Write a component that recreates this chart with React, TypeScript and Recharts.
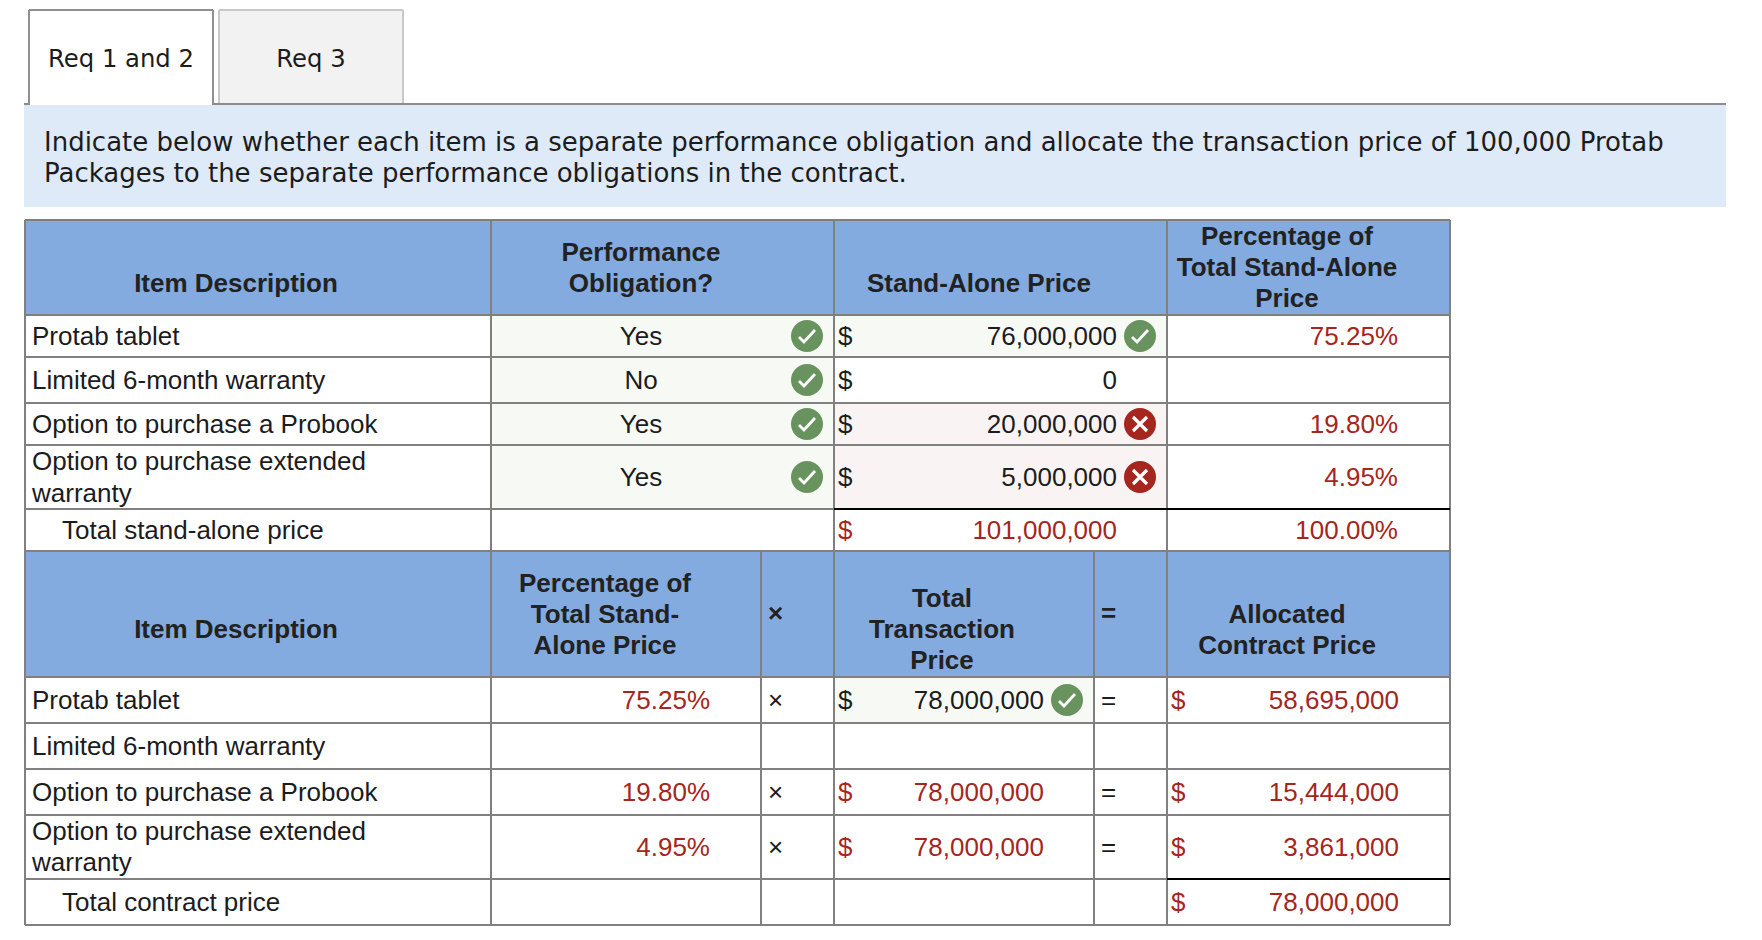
import React from "react"
import { ScatterChart, Scatter, XAxis, YAxis, ReferenceArea, ReferenceLine } from "recharts"

// table content
const tabLabels = ["Req 1 and 2", "Req 3"]
const introLines = [
  "Indicate below whether each item is a separate performance obligation and allocate the transaction price of 100,000 Protab",
  "Packages to the separate performance obligations in the contract.",
]
const itemHeader = "Item Description"
const obligationHeader = ["Performance", "Obligation?"]
const standAloneHeader = "Stand-Alone Price"
const percentHeaderTop = ["Percentage of", "Total Stand-Alone", "Price"]
const percentHeaderBottom = ["Percentage of", "Total Stand-", "Alone Price"]
const transactionHeader = ["Total", "Transaction", "Price"]
const allocatedHeader = ["Allocated", "Contract Price"]

const items = ["Protab tablet", "Limited 6-month warranty", "Option to purchase a Probook"]
const extendedItem = ["Option to purchase extended", "warranty"]
const totalStandAloneLabel = "Total stand-alone price"
const totalContractLabel = "Total contract price"

const obligations = ["Yes", "No", "Yes", "Yes"]
const obligationOk = [true, true, true, true]
const standAlonePrices = ["76,000,000", "0", "20,000,000", "5,000,000"]
const standAloneOk = [true, null, false, false]
const standAloneTotal = "101,000,000"
const standAlonePercents = ["75.25%", "", "19.80%", "4.95%"]
const percentTotal = "100.00%"
const transactionPrices = ["78,000,000", "", "78,000,000", "78,000,000"]
const allocatedPrices = ["58,695,000", "", "15,444,000", "3,861,000"]
const allocatedTotal = "78,000,000"

// layout, in page pixels
const W = 1762
const H = 940
const SANS = "'Liberation Sans', Arial, sans-serif"
const VERDANA = "'DejaVu Sans', Verdana, sans-serif"
const GRAY = "#808080"
const BLUE = "#83abe0"
const RED = "#a4261d"
const INK = "#1c1c1c"

const cols = { left: 25, perf: 491, mult: 761, price: 834, eq: 1094, pct: 1167, right: 1450 }
const topRows = [220, 315, 357, 403, 445, 509, 551]
const bottomRows = [551, 677, 723, 769, 815, 879, 925]
const topCenters = [336, 380, 424, 477]
const bottomCenters = [700, 746, 792, 847]

const X = {
  itemText: 32,
  indent: 62,
  itemCenter: 236,
  perfCenter: 641,
  dollar: 838,
  dollarRight: 1171,
  priceRight: 1117,
  priceHeader: 979,
  pctCenter: 1287,
  pctRight: 1398,
  bottomPctCenter: 605,
  bottomPctRight: 710,
  multCenter: 775.5,
  txCenter: 942,
  txRight: 1044,
  eqCenter: 1108.5,
  allocRight: 1399,
  iconPerf: 807,
  iconPrice: 1140,
  iconTx: 1067,
}

type Cell = { x: number; y: number; text: string; anchor?: string }

const headerCells: Cell[] = [
  { x: X.itemCenter, y: 283, text: itemHeader },
  { x: X.perfCenter, y: 252, text: obligationHeader[0] },
  { x: X.perfCenter, y: 283, text: obligationHeader[1] },
  { x: X.priceHeader, y: 283, text: standAloneHeader },
  ...percentHeaderTop.map((t, i) => ({ x: X.pctCenter, y: [235.5, 267, 298][i], text: t })),
  { x: X.itemCenter, y: 629, text: itemHeader },
  ...percentHeaderBottom.map((t, i) => ({ x: X.bottomPctCenter, y: [583, 614, 645][i], text: t })),
  { x: X.multCenter, y: 613, text: "×" },
  ...transactionHeader.map((t, i) => ({ x: X.txCenter, y: [598, 629, 660][i], text: t })),
  { x: X.eqCenter, y: 613, text: "=" },
  ...allocatedHeader.map((t, i) => ({ x: X.pctCenter, y: [614, 645][i], text: t })),
]

const inkCells: Cell[] = [
  ...items.map((t, i) => ({ x: X.itemText, y: topCenters[i], text: t, anchor: "start" })),
  { x: X.itemText, y: 461, text: extendedItem[0], anchor: "start" },
  { x: X.itemText, y: 493, text: extendedItem[1], anchor: "start" },
  { x: X.indent, y: 530, text: totalStandAloneLabel, anchor: "start" },
  ...obligations.map((t, i) => ({ x: X.perfCenter, y: topCenters[i], text: t })),
  ...standAlonePrices.map((t, i) => ({ x: X.dollar, y: topCenters[i], text: "$", anchor: "start" })),
  ...standAlonePrices.map((t, i) => ({ x: X.priceRight, y: topCenters[i], text: t, anchor: "end" })),
  ...items.map((t, i) => ({ x: X.itemText, y: bottomCenters[i], text: t, anchor: "start" })),
  { x: X.itemText, y: 831, text: extendedItem[0], anchor: "start" },
  { x: X.itemText, y: 862, text: extendedItem[1], anchor: "start" },
  { x: X.indent, y: 902, text: totalContractLabel, anchor: "start" },
  ...transactionPrices.flatMap((t, i) =>
    t === "" ? [] : [
      { x: X.multCenter, y: bottomCenters[i], text: "×" },
      { x: X.eqCenter, y: bottomCenters[i], text: "=" },
    ]),
  { x: X.dollar, y: bottomCenters[0], text: "$", anchor: "start" },
  { x: X.txRight, y: bottomCenters[0], text: transactionPrices[0], anchor: "end" },
]

const redCells: Cell[] = [
  { x: X.dollar, y: 530, text: "$", anchor: "start" },
  { x: X.priceRight, y: 530, text: standAloneTotal, anchor: "end" },
  ...standAlonePercents.flatMap((t, i) => t === "" ? [] : [
    { x: X.pctRight, y: topCenters[i], text: t, anchor: "end" },
    { x: X.bottomPctRight, y: bottomCenters[i], text: t, anchor: "end" },
  ]),
  { x: X.pctRight, y: 530, text: percentTotal, anchor: "end" },
  ...transactionPrices.flatMap((t, i) => t === "" || i === 0 ? [] : [
    { x: X.dollar, y: bottomCenters[i], text: "$", anchor: "start" },
    { x: X.txRight, y: bottomCenters[i], text: t, anchor: "end" },
  ]),
  ...allocatedPrices.flatMap((t, i) => t === "" ? [] : [
    { x: X.dollarRight, y: bottomCenters[i], text: "$", anchor: "start" },
    { x: X.allocRight, y: bottomCenters[i], text: t, anchor: "end" },
  ]),
  { x: X.dollarRight, y: 902, text: "$", anchor: "start" },
  { x: X.allocRight, y: 902, text: allocatedTotal, anchor: "end" },
]

const tabCells: Cell[] = [
  { x: 121, y: 58, text: tabLabels[0] },
  { x: 311, y: 58, text: tabLabels[1] },
]
const introCells: Cell[] = introLines.map((t, i) => ({ x: 44, y: [141.5, 172.5][i], text: t, anchor: "start" }))

const checkMarks = [
  ...obligationOk.map((ok, i) => ({ x: X.iconPerf, y: topCenters[i], ok })),
  ...standAloneOk.flatMap((ok, i) => ok === null ? [] : [{ x: X.iconPrice, y: topCenters[i], ok }]),
  { x: X.iconTx, y: bottomCenters[0], ok: true },
]

const textShape = (fill: string, fontFamily: string, fontSize: number, fontWeight = 400) => (props: any) => {
  const { cx, cy, payload } = props
  return (
    <text
      x={cx}
      y={cy}
      dy={fontSize * 0.36}
      fill={fill}
      fontFamily={fontFamily}
      fontSize={fontSize}
      fontWeight={fontWeight}
      textAnchor={payload.anchor || "middle"}
    >
      {payload.text}
    </text>
  )
}

const StatusIcon = (props: any) => {
  const { cx, cy, payload } = props
  if (payload.ok) {
    return (
      <g>
        <circle cx={cx} cy={cy} r={16} fill="#69935e" />
        <path d={`M${cx - 8} ${cy + 1}L${cx - 3} ${cy + 6}L${cx + 8} ${cy - 6}`} fill="none" stroke="#fff" strokeWidth={2.8} />
      </g>
    )
  }
  return (
    <g>
      <circle cx={cx} cy={cy} r={16} fill="#a5261e" />
      <path d={`M${cx - 7} ${cy - 7}L${cx + 7} ${cy + 7}M${cx + 7} ${cy - 7}L${cx - 7} ${cy + 7}`} fill="none" stroke="#fff" strokeWidth={3.2} />
    </g>
  )
}

const seg = (x1: number, y1: number, x2: number, y2: number, stroke: string, key: string) => (
  <ReferenceLine
    key={key}
    segment={[{ x: x1, y: y1 }, { x: x2, y: y2 }]}
    stroke={stroke}
    strokeWidth={2}
    ifOverflow="visible"
  />
)

const area = (x1: number, x2: number, y1: number, y2: number, fill: string, key: string) => (
  <ReferenceArea key={key} x1={x1} x2={x2} y1={y1} y2={y2} fill={fill} fillOpacity={1} stroke="none" ifOverflow="visible" />
)

export default function App() {
  const upperCols = [cols.left, cols.perf, cols.price, cols.pct, cols.right]
  const lowerCols = [cols.left, cols.perf, cols.mult, cols.price, cols.eq, cols.pct, cols.right]
  return (
    <div style={{ position: "absolute", left: 0, top: 0, width: W, height: H, background: "#fff" }}>
      <ScatterChart width={W} height={H} margin={{ top: 0, right: 0, bottom: 0, left: 0 }}>
        <XAxis type="number" dataKey="x" domain={[0, W]} hide />
        <YAxis type="number" dataKey="y" domain={[0, H]} reversed hide />

        {/* tabs and instructions */}
        {area(29, 213, 10, 104, "#ffffff", "tab1")}
        {area(219, 403, 10, 104, "#f2f2f2", "tab2")}
        {area(24, 1726, 105, 207, "#deeaf8", "intro")}
        {seg(29, 10, 213, 10, "#909090", "t1a")}
        {seg(29, 10, 29, 105, "#909090", "t1b")}
        {seg(213, 10, 213, 105, "#909090", "t1c")}
        {seg(219, 10, 403, 10, "#c8c8c8", "t2a")}
        {seg(219, 10, 219, 104, "#c8c8c8", "t2b")}
        {seg(403, 10, 403, 104, "#c8c8c8", "t2c")}
        {seg(24, 104, 29, 104, "#8c8c8c", "r1")}
        {seg(213, 104, 1726, 104, "#8c8c8c", "r2")}

        {/* cell fills */}
        {area(cols.left, cols.right, topRows[0], topRows[1], BLUE, "h1")}
        {area(cols.left, cols.right, bottomRows[0], bottomRows[1], BLUE, "h2")}
        {area(cols.perf, cols.price, topRows[1], topRows[5], "#f6f9f4", "okPerf")}
        {area(cols.price, cols.pct, topRows[1], topRows[2], "#f6f9f4", "okPrice")}
        {area(cols.price, cols.pct, topRows[3], topRows[5], "#f9f3f4", "badPrice")}
        {area(cols.price, cols.eq, bottomRows[1], bottomRows[2], "#f6f9f4", "okTx")}

        {/* grid rules */}
        {topRows.map((y, i) => seg(cols.left, y, cols.right, y, GRAY, `tr${i}`))}
        {bottomRows.map((y, i) => seg(cols.left, y, cols.right, y, GRAY, `br${i}`))}
        {upperCols.map((x, i) => seg(x, topRows[0], x, topRows[6], GRAY, `tc${i}`))}
        {lowerCols.map((x, i) => seg(x, bottomRows[0], x, bottomRows[6], GRAY, `bc${i}`))}
        {seg(cols.price, topRows[5], cols.right, topRows[5], "#000000", "sum1")}
        {seg(cols.pct, bottomRows[5], cols.right, bottomRows[5], "#000000", "sum2")}

        <Scatter data={tabCells} shape={textShape(INK, VERDANA, 24.3)} isAnimationActive={false} />
        <Scatter data={introCells} shape={textShape(INK, VERDANA, 26)} isAnimationActive={false} />
        <Scatter data={headerCells} shape={textShape("#222222", SANS, 26, 700)} isAnimationActive={false} />
        <Scatter data={inkCells} shape={textShape(INK, SANS, 26)} isAnimationActive={false} />
        <Scatter data={redCells} shape={textShape(RED, SANS, 26)} isAnimationActive={false} />
        <Scatter data={checkMarks} shape={StatusIcon} isAnimationActive={false} />
      </ScatterChart>
    </div>
  )
}
